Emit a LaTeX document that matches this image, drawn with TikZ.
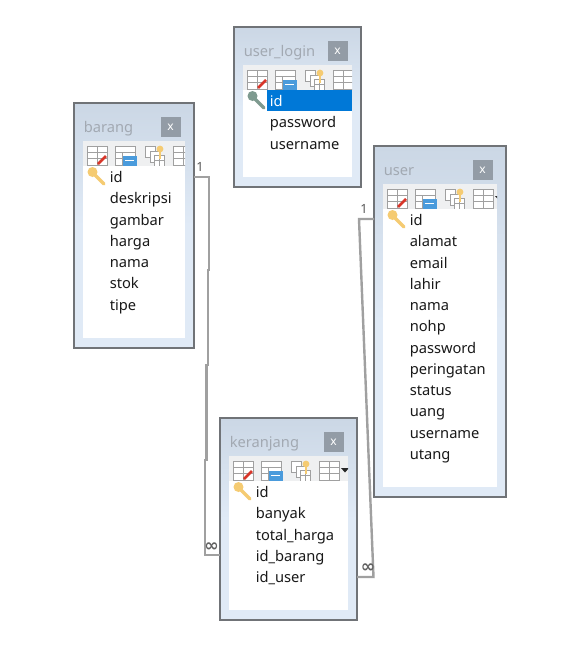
\documentclass[tikz,border=0pt]{standalone}
\usepackage{fontspec}
\setmainfont{Noto Sans}
\newfontfamily\symfont{DejaVu Sans Bold}
\usetikzlibrary{calc}
\definecolor{frameedge}{HTML}{707377}
\definecolor{paneltop}{HTML}{CBD7E5}
\definecolor{panelbot}{HTML}{E0EAF6}
\definecolor{titlegrey}{HTML}{A2A9B2}
\definecolor{closegrey}{HTML}{939CA6}
\definecolor{linkgrey}{HTML}{A0A0A0}
\definecolor{tbarbg}{HTML}{EFF0F1}
\definecolor{icongrey}{HTML}{A0A0A0}
\definecolor{keygold}{HTML}{F5CB72}
\definecolor{keygreen}{HTML}{7E9A8F}
\definecolor{pencil}{HTML}{D8362A}
\definecolor{iconblue}{HTML}{4A9BDC}
\definecolor{selblue}{HTML}{0078D7}
\tikzset{
  x=0.75pt,y=-0.75pt,
  frame/.style={draw=frameedge,line width=0.8pt,top color=paneltop,bottom color=panelbot,middle color=panelbot,inner sep=0pt,outer sep=0pt},
  rowtxt/.style={anchor=base west,inner sep=0pt,font=\fontsize{11}{12}\selectfont,text=black!90},
  ttl/.style={anchor=base west,inner sep=0pt,font=\fontsize{11}{12}\selectfont,text=titlegrey},
  closebtn/.style={fill=closegrey,inner sep=0pt,minimum size=15pt,text=white,font=\bfseries\fontsize{9}{9}\selectfont},
  link/.style={draw=linkgrey,line width=1.8pt,line join=miter},
  card/.style={font=\bfseries\fontsize{9.5}{9.5}\selectfont,text=black!65,inner sep=0pt},
  inf/.style={font=\symfont\fontsize{13}{13}\selectfont,text=black!62,inner sep=0pt},
  ic/.style={draw=icongrey,line width=0.6pt,fill=white},
}
% small grid icon centred at x,y
\newcommand{\gridicon}[2]{%
  \draw[ic] (#1-10,#2-9) rectangle (#1+10,#2+10);
  \draw[icongrey,line width=0.6pt] (#1-10,#2-3) -- (#1+10,#2-3) (#1-10,#2+3.5) -- (#1+10,#2+3.5) (#1,#2-9) -- (#1,#2+10);
}
\newcommand{\toolicons}[2]{%
  \gridicon{#1}{#2}
  \draw[pencil,line width=1.9pt] (#1+1,#2+9) -- (#1+9,#2+1);
  \draw[ic] (#1+28.5-10,#2-9) rectangle (#1+28.5+10,#2+10);
  \draw[icongrey,line width=0.6pt] (#1+28.5-10,#2-3) -- (#1+28.5+10,#2-3) (#1+28.5-10,#2+3.5) -- (#1+28.5-3,#2+3.5) (#1+28.5-3,#2-3) -- (#1+28.5-3,#2+10);
  \fill[iconblue] (#1+28.5-3,#2+1) rectangle (#1+28.5+11,#2+11);
  \draw[white,line width=0.7pt] (#1+28.5-1,#2+5) -- (#1+28.5+8,#2+5);
  \draw[ic] (#1+57-9,#2-9) rectangle (#1+57+1,#2+2);
  \draw[ic] (#1+57-4,#2-4) rectangle (#1+57+6,#2+7);
  \draw[ic] (#1+57,#2) rectangle (#1+57+10,#2+11);
  \draw[icongrey,line width=0.4pt] (#1+57,#2+5.5) -- (#1+57+10,#2+5.5) (#1+57+5,#2) -- (#1+57+5,#2+11);
  \draw[keygold,line width=1.7pt] (#1+57+6,#2-5) -- (#1+57+6,#2+4);
  \fill[keygold] (#1+57+6,#2-6) circle[radius=3.4];
  \gridicon{#1+86}{#2}
  \fill[black!85] (#1+98,#2-2) -- (#1+106,#2-2) -- (#1+102,#2+2.5) -- cycle;
}
% #1 name, #2-#5 x1,y1,x2,y2, #6 title, #7 key colour, #8 first-row fill, #9 first-row text colour
\newcommand{\erbox}[9]{%
  \node[frame,minimum width={(#4-#2)*0.75pt},minimum height={(#5-#3)*0.75pt}] (#1) at ({(#2+#4)/2},{(#3+#5)/2}) {};
  \fill[white] (#2+9,#3+38) rectangle (#4-9,#5-10);
  \fill[tbarbg] (#2+9,#3+38) rectangle (#4-9,#3+63);
  \node[ttl] (#1-title) at (#2+9.5,#3+29.5) {#6};
  \node[closebtn] (#1-close) at (#4-23.5,#3+24) {x};
  \begin{scope}
    \clip (#2+9,#3+38) rectangle (#4-9,#3+64);
    \toolicons{#2+23}{#3+52}
  \end{scope}
  \fill[#8] (#2+33,#3+63) rectangle (#4-9,#3+84);
  \draw[#7,line width=2.5pt,line cap=round] (#2+18,#3+69) -- (#2+30,#3+81);
  \fill[#7] (#2+18.5,#3+69) circle[radius=5];
  \gridrowcolor{#9}
}
\newcommand{\gridrowcolor}[1]{\def\firstcol{#1}}
% rows: #1 box name, #2 text x, #3 first baseline, #4 list of rows
\newcommand{\rowlist}[4]{%
  \foreach \t [count=\i from 0] in {#4}{%
    \ifnum\i=0
      \node[rowtxt,text=\firstcol] (#1-r\i) at (#2,{#3}) {\t};
    \else
      \node[rowtxt] (#1-r\i) at (#2,{#3+21.27*\i}) {\t};
    \fi
  }%
}
\begin{document}
\begin{tikzpicture}
\useasboundingbox (0,0) rectangle (575,650);
\fill[white] (0,0) rectangle (575,650);

\coordinate (b1) at (209,177);
\coordinate (b2) at (209,270);
\coordinate (b3) at (207.7,270);
\coordinate (b4) at (207.7,365);
\coordinate (b5) at (206.5,365);
\coordinate (b6) at (206.5,460);
\coordinate (b7) at (205,460);
\coordinate (b8) at (205,555);
\coordinate (u1) at (359,219);
\coordinate (u2) at (373.5,577);

\erbox{ulogin}{234}{27}{361}{187}{user\_login}{keygreen}{selblue}{white}
\rowlist{ulogin}{269.5}{106.5}{id,password,username}

\erbox{barang}{74}{103}{194}{348}{barang}{keygold}{white}{black!90}
\rowlist{barang}{109.5}{182.5}{id,deskripsi,gambar,harga,nama,stok,tipe}

\erbox{user}{374}{146}{506}{497}{user}{keygold}{white}{black!90}
\rowlist{user}{409.5}{225.5}{id,alamat,email,lahir,nama,nohp,password,peringatan,status,uang,username,utang}

\erbox{keranjang}{220}{418}{357}{620}{keranjang}{keygold}{white}{black!90}
\rowlist{keranjang}{255.5}{497.5}{id,banyak,total\_harga,id\_barang,id\_user}

\draw[link] (barang.east |- b1) -- (b1) -- (b2) -- (b3) -- (b4) -- (b5) -- (b6) -- (b7) -- (b8) -- (keranjang.west |- b8);
\draw[link] (user.west |- u1) -- (u1) -- (u2) -- (keranjang.east |- u2);

\node[card] (one-a) at (200,167) {1};
\node[card] (one-b) at (364,208.5) {1};
\node[inf] (many-a) at (211.5,547) {∞};
\node[inf] (many-b) at (368,568) {∞};
\end{tikzpicture}
\end{document}
